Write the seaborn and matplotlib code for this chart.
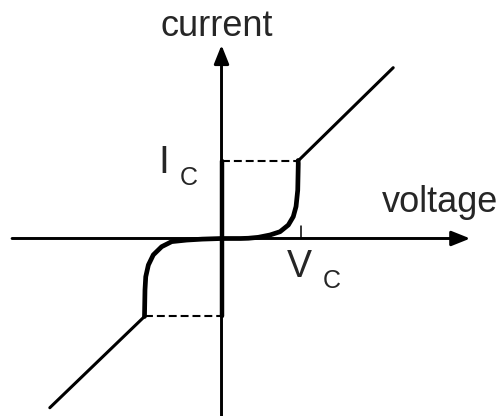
import matplotlib
matplotlib.use('Agg')
import matplotlib.pyplot as plt
import seaborn as sns

# I-V characteristic, voltage in units of Vc, current in units of Ic
curve_v = [-1.0, -1.0, -0.994, -0.984, -0.95, -0.886, -0.777, -0.647, -0.452, -0.25,
           0.0, 0.25, 0.348, 0.478, 0.63, 0.76, 0.868, 0.932, 0.968, 0.99, 0.997, 0.995]
curve_i = [-1.0, -0.98, -0.66, -0.49, -0.34, -0.21, -0.105, -0.04, -0.02, -0.008,
           0.0, 0.0, 0.003, 0.015, 0.045, 0.087, 0.173, 0.28, 0.41, 0.62, 0.96, 1.0]

upper_v = [1.0, 2.23]
upper_i = [1.0, 2.19]
lower_v = [-1.0, -2.23]
lower_i = [-1.0, -2.17]

ic_dash_v = [0.0, 1.0]
ic_dash_i = [1.0, 1.0]
neg_dash_v = [-1.0, 0.0]
neg_dash_i = [-1.0, -1.0]

zero_v = [0.0, 0.0]
zero_i = [-1.0, 1.0]

x_axis = [-2.72, 3.23]
y_axis = [-2.35, 2.48]
vc_tick = 1.03

sns.set_style('white')
plt.rcParams['font.family'] = ['Liberation Sans', 'DejaVu Sans']

fig = plt.figure(figsize=(5.03, 4.16), dpi=100)
ax = fig.add_axes([0, 0, 1, 1])
ax.set_xlim(-2.877, 3.656)
ax.set_ylim(-2.276, 3.058)
ax.axis('off')

# axes with arrows
arr = dict(arrowstyle='-|>,head_length=0.45,head_width=0.18', lw=2.1,
           color='black', mutation_scale=25, shrinkA=0, shrinkB=0)
ax.annotate('', xy=(x_axis[1], 0), xytext=(x_axis[0], 0), arrowprops=arr)
ax.annotate('', xy=(0, y_axis[1]), xytext=(0, y_axis[0]), arrowprops=arr)

# thick zero-voltage section
sns.lineplot(x=zero_v, y=zero_i, ax=ax, color='black', lw=3.2,
             sort=False, estimator=None, legend=False)

# dashed critical current levels
for xs, ys in [(ic_dash_v, ic_dash_i), (neg_dash_v, neg_dash_i)]:
    sns.lineplot(x=xs, y=ys, ax=ax, color='black', lw=1.5, dashes=False,
                 sort=False, estimator=None, legend=False, linestyle=(0, (3.8, 1.9)))

# ohmic branches
for xs, ys in [(upper_v, upper_i), (lower_v, lower_i)]:
    sns.lineplot(x=xs, y=ys, ax=ax, color='black', lw=2.2,
                 sort=False, estimator=None, legend=False)

# transition curve
sns.lineplot(x=curve_v, y=curve_i, ax=ax, color='black', lw=3.4,
             sort=False, estimator=None, legend=False)

# Vc tick
ax.plot([vc_tick, vc_tick], [0, 0.16], color='black', lw=1.1)

# labels
ax.text(-0.065, 2.596, 'current', fontsize=26, ha='center', va='baseline')
ax.text(2.84, 0.34, 'voltage', fontsize=26, ha='center', va='baseline')
ax.text(-0.747, 0.84, 'I', fontsize=28, ha='center', va='baseline')
ax.text(-0.43, 0.686, 'C', fontsize=18, ha='center', va='baseline')
ax.text(1.013, -0.494, 'V', fontsize=27, ha='center', va='baseline')
ax.text(1.43, -0.635, 'C', fontsize=18, ha='center', va='baseline')

fig.savefig('out.png', dpi=100)
